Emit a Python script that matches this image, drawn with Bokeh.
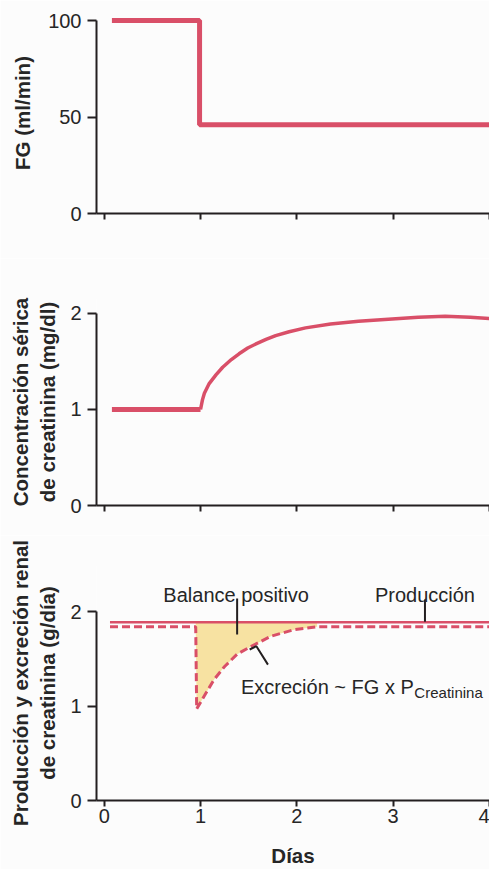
from bokeh.plotting import figure
from bokeh.layouts import column
from bokeh.models import Range1d, FixedTicker, ColumnDataSource
from bokeh.core.properties import value
from bokeh.embed import file_html
from bokeh.resources import INLINE

# ---------------- data ----------------
x_ticks = [0, 1, 2, 3, 4]

# Panel 1: FG (ml/min)
fg_days = [0.08, 0.99, 0.99, 4.3]
fg_vals = [100, 100, 46, 46]
fg_ticks = [0, 50, 100]

# Panel 2: serum creatinine (mg/dl)
cr_flat_days = [0.08, 1.0]
cr_flat_vals = [1.0, 1.0]
cr_days = [1.0, 1.02, 1.04, 1.09, 1.16, 1.23, 1.32, 1.40, 1.49, 1.57, 1.68, 1.78,
           1.92, 2.09, 2.35, 2.64, 2.95, 3.26, 3.54, 3.80, 4.1]
cr_vals = [1.0, 1.10, 1.17, 1.27, 1.36, 1.44, 1.52, 1.58, 1.64, 1.68, 1.73, 1.77,
           1.81, 1.85, 1.89, 1.92, 1.94, 1.96, 1.97, 1.96, 1.94]
cr_ticks = [0, 1, 2]

# Panel 3: production and renal excretion (g/dia)
prod_days = [0.06, 4.3]
prod_vals = [1.89, 1.89]
ex_days = [0.06, 0.95, 0.96, 1.04, 1.14, 1.25, 1.38, 1.52, 1.73, 1.97, 2.21, 2.5, 4.3]
ex_vals = [1.84, 1.84, 0.97, 1.11, 1.28, 1.42, 1.55, 1.63, 1.74, 1.81, 1.84, 1.84, 1.84]
bal_ticks = [0, 1, 2]

ann_text = ["Balance positivo", "Producción", "Excreción ~ FG x P"]
ann_x = [1.37, 3.33, 1.42]
ann_y = [2.175, 2.175, 1.20]
ann_align = ["center", "center", "left"]
sub_text = ["Creatinina"]
sub_x = [3.22]
sub_y = [1.14]
lead_xs = [[1.38, 1.38], [3.33, 3.33], [1.51, 1.58, 1.70]]
lead_ys = [[2.14, 1.76], [2.13, 1.895], [1.60, 1.635, 1.44]]

# ---------------- style ----------------
RED = "#d94f68"
FILL = "#f7e2a2"
AX = "#231f20"
TXT = "#262626"
BG = "#fcfcfc"
FONT = "Liberation Sans"
XR = Range1d(-0.08, 4.0)


def make(h, yr, yticks, ylabel, top, bottom, show_x=False, xlabel=None):
    p = figure(width=489, height=h, x_range=XR, y_range=Range1d(*yr),
               output_backend="svg", toolbar_location=None,
               min_border_left=96, min_border_right=0,
               min_border_top=top, min_border_bottom=bottom)
    p.background_fill_color = BG
    p.border_fill_color = BG
    p.outline_line_color = None
    p.grid.visible = False
    p.xaxis.ticker = FixedTicker(ticks=x_ticks)
    p.yaxis.ticker = FixedTicker(ticks=yticks)
    p.yaxis.bounds = (0, yticks[-1])
    for ax in (p.xaxis, p.yaxis):
        ax.axis_line_color = AX
        ax.axis_line_width = 2
        ax.major_tick_line_color = AX
        ax.major_tick_line_width = 2
        ax.major_tick_in = 0
        ax.minor_tick_line_color = None
        ax.major_label_text_font = FONT
        ax.major_label_text_font_size = "20px"
        ax.major_label_text_color = TXT
        ax.axis_label_text_font = FONT
        ax.axis_label_text_font_size = "20.5px"
        ax.axis_label_text_font_style = "bold"
        ax.axis_label_text_color = TXT
    p.yaxis.major_tick_out = 9
    p.yaxis.major_label_standoff = 6
    p.yaxis.axis_label = ylabel
    p.yaxis.axis_label_standoff = 8
    p.xaxis.major_tick_out = 6
    p.xaxis.major_label_standoff = 2
    if not show_x:
        p.xaxis.major_label_text_color = None
    if xlabel:
        p.xaxis.axis_label = xlabel
        p.xaxis.axis_label_standoff = 18
    return p


# Panel 1
p1 = make(258, (0, 104.15), fg_ticks, "FG (ml/min)", 12, 45)
p1.yaxis.axis_label_standoff = 11
p1.line(fg_days, fg_vals, line_color=RED, line_width=5)

# Panel 2
p2 = make(277, (0, 2.156), cr_ticks, "Concentración sérica\nde creatinina (mg/dl)", 40, 30)
p2.line(cr_flat_days, cr_flat_vals, line_color=RED, line_width=5)
p2.line(cr_days, cr_vals, line_color=RED, line_width=3.5)

# Panel 3
p3 = make(334, (0, 2.49), bal_ticks, "Producción y excreción renal\nde creatinina (g/día)", 30, 66,
          show_x=True, xlabel="Días")
fill_days = ex_days[1:11]
fill_low = ex_vals[1:11]
fill_high = [prod_vals[0]] * len(fill_days)
p3.varea(x=fill_days, y1=fill_low, y2=fill_high, fill_color=FILL)
p3.line(ex_days, ex_vals, line_color=RED, line_width=3, line_dash="8 4")
p3.line(prod_days, prod_vals, line_color=RED, line_width=2.5)
p3.multi_line(xs=lead_xs, ys=lead_ys, line_color=AX, line_width=2)
src = ColumnDataSource(dict(x=ann_x, y=ann_y, t=ann_text, a=ann_align))
p3.text(x="x", y="y", text="t", text_align="a", text_baseline="alphabetic",
        text_font=value(FONT), text_font_size="20px", text_color=TXT, source=src)
p3.text(x=sub_x, y=sub_y, text=sub_text, text_align="left", text_baseline="alphabetic",
        text_font=value(FONT), text_font_size="15px", text_color=TXT)

layout = column(p1, p2, p3, spacing=0)
open("out.html", "w").write(file_html(layout, INLINE))
